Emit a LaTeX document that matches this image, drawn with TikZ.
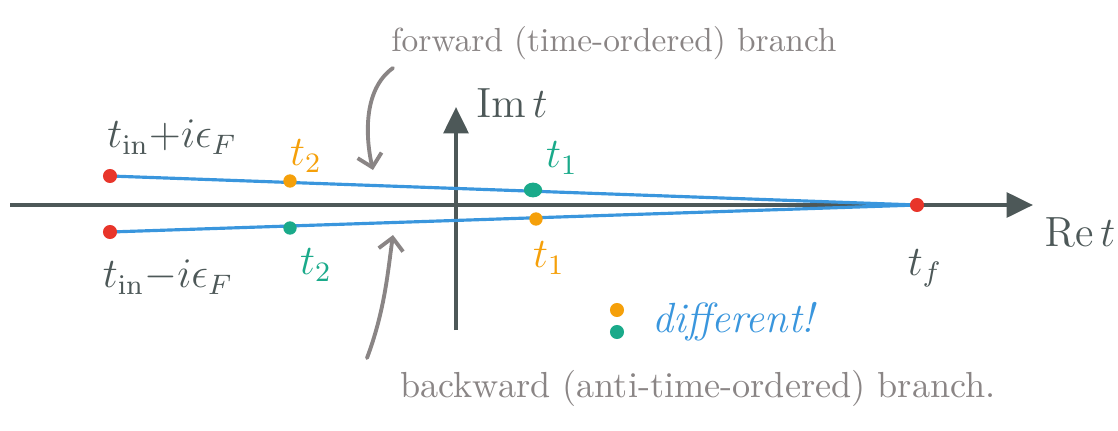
\documentclass[tikz,border=0pt]{standalone}
\usetikzlibrary{arrows.meta}
\definecolor{axisgray}{HTML}{4D5858}
\definecolor{branchblue}{HTML}{3A96DD}
\definecolor{dotred}{HTML}{E8352A}
\definecolor{dotorange}{HTML}{F5A00A}
\definecolor{dotgreen}{HTML}{1AAA8A}
\definecolor{notegray}{HTML}{8A8585}
\tikzset{
  axis/.style={draw=axisgray, line width=1.2pt, -{Triangle[length=7.5pt,width=7pt]}},
  branch/.style={draw=branchblue, line width=0.9pt},
  pointer/.style={draw=notegray, line width=1.1pt, line cap=round, -{Straight Barb[length=3.5pt,width=7pt]}},
  note/.style={text=notegray, font=\fontsize{9.5}{11}\selectfont},
  axislabel/.style={text=axisgray, font=\large},
}
\begin{document}
\begin{tikzpicture}[x=0.01cm,y=-0.01cm]
\useasboundingbox (0,0) rectangle (1118,430);
\coordinate (Rl) at (10,205);
\coordinate (Rr) at (1033,205);
\coordinate (Ib) at (456,330);
\coordinate (It) at (456,107);
\coordinate (P)  at (110,176);
\coordinate (M)  at (110,232);
\coordinate (F)  at (917,205);
\coordinate (P2) at (290,181);
\coordinate (M2) at (290,228);
\coordinate (P1) at (533,190);
\coordinate (M1) at (536,219);

\draw[axis] (Rl)--(Rr);
\draw[axis] (Ib)--(It);
\draw[branch] (P)--(F);
\draw[branch] (M)--(F);

\foreach \p in {P,M,F}
{
    \fill[dotred] (\p) circle (2pt);
}
\foreach \p in {P2,M1}
{
    \fill[dotorange] (\p) circle (1.9pt);
}
\fill[dotgreen] (M2) circle (1.9pt);
\fill[dotgreen] (P1) ellipse (2.6pt and 2.1pt);

\node[axislabel] (tinp) at (172,137) {$t_{\mathrm{in}}{+}i\epsilon_F$};
\node[axislabel] (tinm) at (168,277) {$t_{\mathrm{in}}{-}i\epsilon_F$};
\node[axislabel] (tf)   at (925,268) {$t_f$};
\node[axislabel] (Imt)  at (512,103) {$\mathrm{Im}\,t$};
\node[axislabel] (Ret)  at (1080,232) {$\mathrm{Re}\,t$};
\node[text=dotorange, font=\large] (P2l) at (306,156) {$t_2$};
\node[text=dotgreen, font=\large]  (M2l) at (316,265) {$t_2$};
\node[text=dotgreen, font=\large]  (P1l) at (562,158) {$t_1$};
\node[text=dotorange, font=\large] (M1l) at (549,258) {$t_1$};

\node[note] (fwd) at (614,43) {forward (time-ordered) branch};
\node[note, font=\fontsize{10.3}{12}\selectfont] (bwd) at (698,388) {backward (anti-time-ordered) branch.};

\coordinate (fwdtail) at (393,68);
\coordinate (fwdtip)  at (373,170);
\coordinate (bwdtail) at (367,358);
\coordinate (bwdtip)  at (393,235);
\draw[pointer] (fwdtail) .. controls (362,90) and (366,140) .. (fwdtip);
\draw[pointer] (bwdtail) .. controls (385,310) and (388,270) .. (bwdtip);

\coordinate (L1) at (617,310);
\coordinate (L2) at (617,332);
\fill[dotorange] (L1) circle (2pt);
\fill[dotgreen] (L2) circle (2pt);
\node[text=branchblue, font=\large\itshape, anchor=west] (diff) at (640,322) {different!};
\end{tikzpicture}
\end{document}
